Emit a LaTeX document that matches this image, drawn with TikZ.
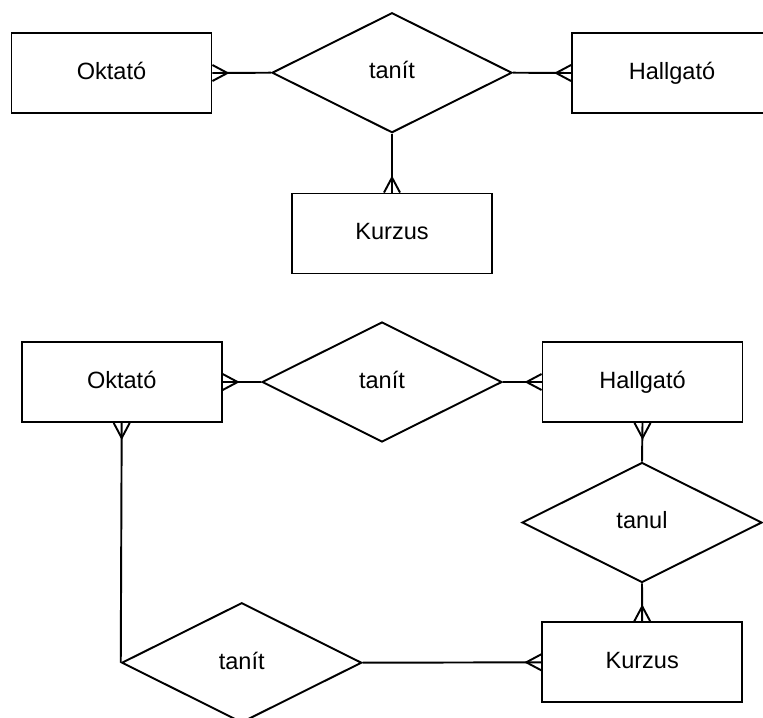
\documentclass[tikz,border=0pt]{standalone}
\usepackage{fontspec}
\setmainfont{Liberation Sans}
\usetikzlibrary{calc,shapes.geometric}
\tikzset{ entity/.style = { rectangle % entity box
        , draw
        , fill = white
        , minimum width = 4cm
        , minimum height = 1.6cm
        , text height = 0.716em
        , text depth = 0pt
        , font = \fontsize{13.4}{16}\selectfont
        }
        , relation/.style = { diamond % relationship
        , draw
        , fill = white
        , aspect = 2
        , inner sep = 0pt
        , minimum width = 4.8cm
        , minimum height = 2.4cm
        , text height = 0.716em
        , text depth = 0pt
        , font = \fontsize{13.4}{16}\selectfont
        }
        }
% crow's foot at an entity border: #1 anchor, #2 outward direction
\newcommand{\crowfoot}[2]{\draw [edge_style] ($(#1)+(#2+90:8)$) -- ($(#1)+(#2:15)$) -- ($(#1)+(#2-90:8)$);}
\begin{document}
\begin{tikzpicture}[x=0.02cm, y=0.02cm, line width=1.1pt,
        edge_style/.style={draw=black, line width=1.1pt, line join=miter}]
        \useasboundingbox (0,0) rectangle (763,-717);

        % upper diagram
        \node [entity](okt1) at (111.5,-73) {Oktató};
        \node [relation](tan1) at (392,-72.7) {tanít};
        \node [entity](hal1) at (672,-73) {Hallgató};
        \node [entity](kur1) at (392,-233.5) {Kurzus};
        \draw [edge_style] (okt1.east) -- (tan1.west);
        \draw [edge_style] (hal1.west) -- (tan1.east);
        \draw [edge_style] (tan1.south) -- (kur1.north);
        \crowfoot{okt1.east}{0}
        \crowfoot{hal1.west}{180}
        \crowfoot{kur1.north}{90}

        % lower diagram
        \node [entity](okt2) at (121.7,-382) {Oktató};
        \node [relation](tan2) at (382,-382) {tanít};
        \node [entity](hal2) at (642.5,-382) {Hallgató};
        \node [relation](tanul) at (642,-522.5) {tanul};
        \node [entity](kur2) at (642.2,-662.3) {Kurzus};
        \node [relation](tan3) at (241.7,-662.7) {tanít};
        \draw [edge_style] (okt2.east) -- (tan2.west);
        \draw [edge_style] (hal2.west) -- (tan2.east);
        \draw [edge_style] (hal2.south) -- (tanul.north);
        \draw [edge_style] (tanul.south) -- (kur2.north);
        \draw [edge_style] (okt2.south) -- (tan3.west);
        \draw [edge_style] (tan3.east) -- (kur2.west);
        \crowfoot{okt2.east}{0}
        \crowfoot{hal2.west}{180}
        \crowfoot{hal2.south}{-90}
        \crowfoot{kur2.north}{90}
        \crowfoot{okt2.south}{-90}
        \crowfoot{kur2.west}{180}
\end{tikzpicture}
\end{document}
